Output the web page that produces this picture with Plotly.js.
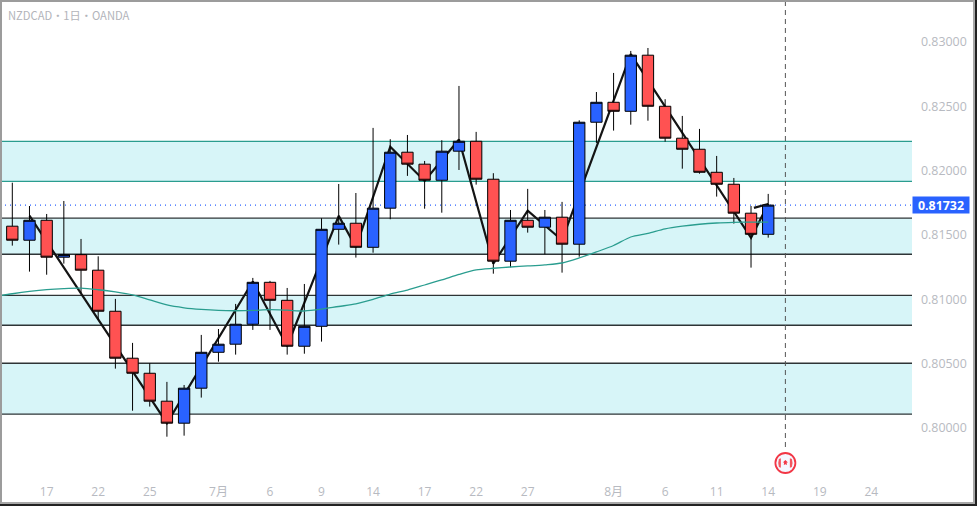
<!DOCTYPE html>
<html><head><meta charset="utf-8">
<script src="https://cdn.plot.ly/plotly-3.0.1.min.js"></script>
<style>
html,body{margin:0;padding:0;background:#fff;width:977px;height:506px;overflow:hidden}
#chart{position:absolute;left:0;top:0;width:977px;height:506px}
#b1{position:absolute;left:0;top:0;box-sizing:content-box;width:975px;height:504px;border-right:2px solid #222;border-bottom:2px solid #222;pointer-events:none}
#b2{position:absolute;left:0;top:0;width:975px;height:504px;box-sizing:border-box;border-left:2px solid #9c9c9c;border-top:2px solid #9c9c9c;border-right:2px solid #a8a8a8;border-bottom:2px solid #a8a8a8;pointer-events:none}
</style></head><body>
<div id="chart"></div><div id="b1"></div><div id="b2"></div>
<script>
const candleIndex = Array.from({length:45},(_,i)=>i);
const openPrices  = [.81568,.81459,.81614,.81327,.81347,.81226,.80907,.80542,.80425,.80208,.80037,.80309,.80588,.80651,.80806,.81132,.80992,.80635,.80790,.81544,.81591,.81404,.81708,.82143,.82050,.81925,.82151,.82228,.81933,.81296,.81614,.81560,.81638,.81428,.82376,.82531,.82461,.82897,.82500,.82252,.82166,.81987,.81894,.81669,.81505];
const highPrices  = [.81906,.81725,.81663,.81764,.81469,.81334,.81003,.80661,.80503,.80358,.80334,.80723,.80769,.80964,.81166,.81143,.81088,.81119,.81630,.81896,.81826,.82332,.82244,.82277,.82075,.82236,.82658,.82301,.81980,.81694,.81858,.81694,.81757,.82391,.82611,.82759,.82930,.82953,.82555,.82425,.82324,.82114,.81943,.81725,.81819];
const lowPrices   = [.81417,.81215,.81191,.81277,.81049,.80839,.80461,.80134,.80166,.79932,.79940,.80236,.80515,.80570,.80762,.80762,.80570,.80577,.80671,.81425,.81324,.81362,.81622,.81959,.81704,.81673,.82005,.81891,.81199,.81249,.81518,.81350,.81207,.81331,.82215,.82311,.82357,.82388,.82225,.82015,.81976,.81798,.81588,.81246,.81479];
const closePrices = [.81459,.81614,.81327,.81347,.81226,.80907,.80542,.80425,.80208,.80037,.80309,.80588,.80651,.80806,.81132,.80992,.80635,.80790,.81544,.81591,.81404,.81708,.82143,.82050,.81925,.82151,.82228,.81933,.81296,.81614,.81560,.81638,.81428,.82376,.82531,.82461,.82897,.82500,.82252,.82166,.81987,.81894,.81669,.81505,.81732];

const zigzagX = [1,9,14,16,19,20,22,24,26,28,30,32,36,43,44];
const zigzagY = [.81650,.80037,.81138,.80635,.81648,.81404,.82186,.81920,.82242,.81277,.81689,.81459,.82905,.81477,.81741];
const zigzagTailX = [43.17,44];
const zigzagTailY = [.81710,.81741];

const maX = [-1,0,1,2,3,4,5,6,7,8,9,10,11,12,13,14,15,16,17,18,19,20,21,22,23,24,25,26,27,28,29,30,31,32,33,34,35,36,37,38,39,40,41,42,43,44];
const maY = [.81022,.81043,.81061,.81075,.81083,.81086,.81074,.81057,.81034,.80995,.80956,.80934,.80921,.80913,.80911,.80913,.80919,.80915,.80909,.80923,.80944,.80964,.80999,.81041,.81072,.81111,.81150,.81193,.81228,.81241,.81251,.81259,.81268,.81282,.81321,.81368,.81418,.81484,.81512,.81547,.81568,.81583,.81593,.81598,.81600,.81600];

const bandTop    = [.82228,.81630,.81031,.80503];
const bandBottom = [.81917,.81350,.80798,.80107];
const bandLine   = ['#2a9d8f','#2e3436','#2e3436','#2e3436'];

const priceTicks = [.80000,.80500,.81000,.81500,.82000,.82500,.83000];
const dateTickPos  = [2,5,8,12,15,18,21,24,27,30,35,38,41,44,47,50];
const dateTickText = ['17','22','25','7月','6','9','14','17','22','27','8月','6','11','14','19','24'];
const lastPrice = .81732;
const eventIndex = 45;
const title = 'NZDCAD・1日・OANDA';

const grey = '#b7bac1';
const shapes = [];
bandTop.forEach((t,i)=>{
  shapes.push({type:'rect',xref:'paper',yref:'y',x0:0,x1:1,y0:bandBottom[i],y1:t,fillcolor:'#d7f5f8',
    line:{width:0},layer:'below'});
  [t,bandBottom[i]].forEach(v=>shapes.push({type:'line',xref:'paper',yref:'y',x0:0,x1:1,y0:v,y1:v,
    line:{color:bandLine[i],width:1.3},layer:'below'}));
});
shapes.push({type:'line',xref:'paper',yref:'y',x0:0,x1:1,y0:lastPrice,y1:lastPrice,
  line:{color:'#2962ff',width:1.2,dash:'1px 4px'},layer:'below'});
shapes.push({type:'line',xref:'x',yref:'paper',x0:eventIndex,x1:eventIndex,y0:31/478,y1:1,
  line:{color:'#555',width:1,dash:'5px 4px'},layer:'below'});

// event marker (Canadian flag badge)
const fy = 15/478;
const badge = (p,o)=>Object.assign({type:'path',xref:'x',yref:'paper',xsizemode:'pixel',ysizemode:'pixel',
  xanchor:eventIndex,yanchor:fy,path:p},o);
shapes.push({type:'circle',xref:'x',yref:'paper',xsizemode:'pixel',ysizemode:'pixel',xanchor:eventIndex,yanchor:fy,
  x0:-10,x1:10,y0:-10,y1:10,fillcolor:'#f4f7ff',line:{color:'#f23645',width:1.8}});
shapes.push(badge('M -6.5 -4 Q -7.8 0 -6.5 4 L -4.5 4.8 L -4.5 -4.8 Z',{fillcolor:'#f4575f',line:{width:0}}));
shapes.push(badge('M 6.5 -4 Q 7.8 0 6.5 4 L 4.5 4.8 L 4.5 -4.8 Z',{fillcolor:'#f4575f',line:{width:0}}));
shapes.push(badge('M 0 3 L 2.6 0.6 L 1.2 0.4 L 1.6 -2 L 0 -1.2 L -1.6 -2 L -1.2 0.4 L -2.6 0.6 Z',{fillcolor:'#f23645',line:{width:0}}));

const traces = [
  {type:'scatter',mode:'lines',x:zigzagX,y:zigzagY,line:{color:'#141414',width:2.2},xaxis:'x',yaxis:'y',hoverinfo:'skip'},
  {type:'scatter',mode:'lines',x:zigzagTailX,y:zigzagTailY,line:{color:'#141414',width:2.2},xaxis:'x',yaxis:'y',hoverinfo:'skip'},
  {type:'candlestick',x:candleIndex,open:openPrices,high:highPrices,low:lowPrices,close:closePrices,
    increasing:{fillcolor:'#2962ff',line:{color:'#000',width:1}},
    decreasing:{fillcolor:'#ff5252',line:{color:'#000',width:1}},
    whiskerwidth:0,xaxis:'x',yaxis:'y2',hoverinfo:'skip'},
  {type:'scatter',mode:'lines',x:maX,y:maY,line:{color:'#2a9d8f',width:1.3,shape:'spline',smoothing:0.8},xaxis:'x',yaxis:'y3',hoverinfo:'skip'}
];
const yr = [.79611,.83326];
const layout = {
  width:977,height:506,margin:{l:0,r:65,t:0,b:28},showlegend:false,
  paper_bgcolor:'#fff',plot_bgcolor:'#fff',boxgap:0.34,boxgroupgap:0,
  font:{family:'"Open Sans","Noto Sans CJK JP",sans-serif',color:grey,size:12},
  xaxis:{range:[-0.716,52.37],tickmode:'array',tickvals:dateTickPos,ticktext:dateTickText,showgrid:false,zeroline:false,
    showline:false,ticks:'',ticklabelstandoff:5,rangeslider:{visible:false},tickfont:{size:12,color:grey}},
  yaxis:{range:yr,side:'right',tickmode:'array',tickvals:priceTicks,ticktext:priceTicks.map(v=>v.toFixed(5)),
    showgrid:false,zeroline:false,showline:false,ticks:'',ticklabelstandoff:8,tickfont:{size:12.4,color:grey}},
  yaxis2:{range:yr,overlaying:'y',visible:false},
  yaxis3:{range:yr,overlaying:'y',visible:false},
  shapes,
  annotations:[
    {xref:'paper',yref:'paper',x:6/912,y:1-15/478,xanchor:'left',yanchor:'middle',showarrow:false,text:title,
      font:{family:'"Noto Sans CJK JP","Noto Sans",sans-serif',size:11.2,color:'#b2b4ba'}},
    {xref:'paper',yref:'y',x:941/912,y:lastPrice,xanchor:'center',yanchor:'middle',showarrow:false,
      text:'<b>'+lastPrice.toFixed(5)+'</b>',bgcolor:'#2962ff',width:56,height:16,borderpad:0,
      font:{size:12.4,color:'#fff'}}
  ]
};
Plotly.newPlot('chart',traces,layout,{staticPlot:true,displayModeBar:false});
</script></body></html>
